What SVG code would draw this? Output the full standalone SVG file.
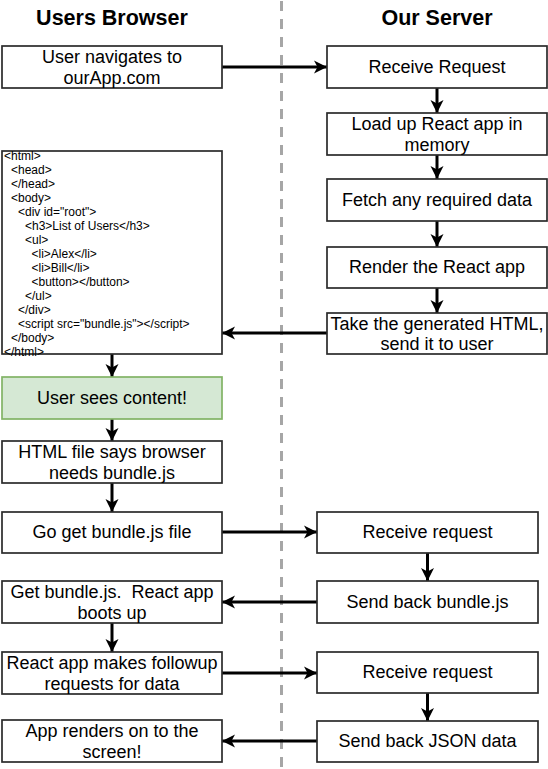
<svg xmlns="http://www.w3.org/2000/svg" width="548" height="769" viewBox="0 0 548 769">
<defs>
<marker id="ah" markerUnits="userSpaceOnUse" markerWidth="14" markerHeight="14" viewBox="0 0 14 14" refX="13" refY="7" orient="auto">
<path d="M0,0.5 L13,7 L0,13.5 L3.5,7 Z" fill="#000"/>
</marker>
<style>
.b{fill:#fff;stroke:#2b2b2b;stroke-width:1.7}
.g{fill:#d5e8d4;stroke:#82b366;stroke-width:1.7}
.t{font-family:"Liberation Sans",Arial,sans-serif;font-size:18px;fill:#000;text-anchor:middle;white-space:pre}
.h{font-family:"Liberation Sans",Arial,sans-serif;font-size:21.5px;font-weight:bold;fill:#000;text-anchor:middle}
.c{font-family:"Liberation Sans",Arial,sans-serif;font-size:12px;fill:#000}
.e{fill:none;stroke:#000;stroke-width:3;marker-end:url(#ah)}
</style>
</defs>
<rect width="548" height="769" fill="#fff"/>
<line x1="281.5" y1="1" x2="281.5" y2="769" stroke="#a6a6a6" stroke-width="3" stroke-dasharray="10 8"/>
<text class="h" x="112" y="25">Users Browser</text>
<text class="h" x="437" y="25">Our Server</text>

<g id="connectors">
<line class="e" x1="222" y1="67" x2="327" y2="67"/>
<line class="e" x1="437" y1="88" x2="437" y2="113"/>
<line class="e" x1="437" y1="155" x2="437" y2="179"/>
<line class="e" x1="437" y1="221" x2="437" y2="247"/>
<line class="e" x1="437" y1="288" x2="437" y2="313"/>
<line class="e" x1="327" y1="333" x2="222" y2="333"/>
<line class="e" x1="112" y1="354" x2="112" y2="377"/>
<line class="e" x1="112" y1="419" x2="112" y2="441"/>
<line class="e" x1="112" y1="483" x2="112" y2="512"/>
<line class="e" x1="222" y1="532" x2="317" y2="532"/>
<line class="e" x1="427.5" y1="553" x2="427.5" y2="581"/>
<line class="e" x1="317" y1="602" x2="222" y2="602"/>
<line class="e" x1="112" y1="623" x2="112" y2="652"/>
<line class="e" x1="222" y1="673" x2="317" y2="673"/>
<line class="e" x1="427.5" y1="693" x2="427.5" y2="721"/>
<line class="e" x1="317" y1="741" x2="222" y2="741"/>
</g>

<g id="n-navigate"><rect class="b" x="2" y="46" width="220" height="42"/><text class="t" x="112" y="63">User navigates to</text><text class="t" x="112" y="83.5">ourApp.com</text></g>
<g id="n-html"><rect class="b" x="2" y="151" width="220" height="203"/>
<text class="c" x="4" y="159.5">&lt;html&gt;</text>
<text class="c" x="11" y="173.5">&lt;head&gt;</text>
<text class="c" x="11" y="187.5">&lt;/head&gt;</text>
<text class="c" x="11" y="201.5">&lt;body&gt;</text>
<text class="c" x="18" y="215.5">&lt;div id="root"&gt;</text>
<text class="c" x="25" y="229.5">&lt;h3&gt;List of Users&lt;/h3&gt;</text>
<text class="c" x="25" y="243.5">&lt;ul&gt;</text>
<text class="c" x="31.5" y="257.5">&lt;li&gt;Alex&lt;/li&gt;</text>
<text class="c" x="31.5" y="271.5">&lt;li&gt;Bill&lt;/li&gt;</text>
<text class="c" x="31.5" y="285.5">&lt;button&gt;&lt;/button&gt;</text>
<text class="c" x="25" y="299.5">&lt;/ul&gt;</text>
<text class="c" x="18" y="313.5">&lt;/div&gt;</text>
<text class="c" x="18" y="327.5">&lt;script src="bundle.js"&gt;&lt;/script&gt;</text>
<text class="c" x="11" y="341.5">&lt;/body&gt;</text>
<text class="c" x="4" y="355.5">&lt;/html&gt;</text>
</g>
<g id="n-sees"><rect class="g" x="2" y="377" width="220" height="42"/><text class="t" x="112" y="403.5">User sees content!</text></g>
<g id="n-htmlfile"><rect class="b" x="2" y="441" width="220" height="42"/><text class="t" x="112" y="458">HTML file says browser</text><text class="t" x="112" y="478.5">needs bundle.js</text></g>
<g id="n-goget"><rect class="b" x="2" y="512" width="220" height="41"/><text class="t" x="112" y="537.5">Go get bundle.js file</text></g>
<g id="n-getbundle"><rect class="b" x="2" y="581" width="220" height="42"/><text class="t" x="112" y="598" xml:space="preserve">Get bundle.js.  React app</text><text class="t" x="112" y="618.5">boots up</text></g>
<g id="n-followup"><rect class="b" x="2" y="652" width="220" height="42"/><text class="t" x="112" y="669">React app makes followup</text><text class="t" x="112" y="689.5">requests for data</text></g>
<g id="n-renders"><rect class="b" x="2" y="720" width="220" height="42"/><text class="t" x="112" y="737">App renders on to the</text><text class="t" x="112" y="757.5">screen!</text></g>

<g id="n-receive1"><rect class="b" x="327" y="46" width="220" height="42"/><text class="t" x="437" y="72.5">Receive Request</text></g>
<g id="n-load"><rect class="b" x="327" y="113" width="220" height="42"/><text class="t" x="437" y="130">Load up React app in</text><text class="t" x="437" y="150.5">memory</text></g>
<g id="n-fetch"><rect class="b" x="327" y="179" width="220" height="42"/><text class="t" x="437" y="205.5">Fetch any required data</text></g>
<g id="n-render"><rect class="b" x="327" y="247" width="220" height="41"/><text class="t" x="437" y="272.5">Render the React app</text></g>
<g id="n-take"><rect class="b" x="327" y="313" width="220" height="41"/><text class="t" x="437" y="329.5">Take the generated HTML,</text><text class="t" x="437" y="350">send it to user</text></g>

<g id="n-receive2"><rect class="b" x="317" y="512" width="221" height="41"/><text class="t" x="427.5" y="537.5">Receive request</text></g>
<g id="n-sendbundle"><rect class="b" x="317" y="581" width="221" height="42"/><text class="t" x="427.5" y="607.5">Send back bundle.js</text></g>
<g id="n-receive3"><rect class="b" x="317" y="652" width="221" height="41"/><text class="t" x="427.5" y="677.5">Receive request</text></g>
<g id="n-sendjson"><rect class="b" x="317" y="721" width="221" height="41"/><text class="t" x="427.5" y="746.5">Send back JSON data</text></g>
</svg>
